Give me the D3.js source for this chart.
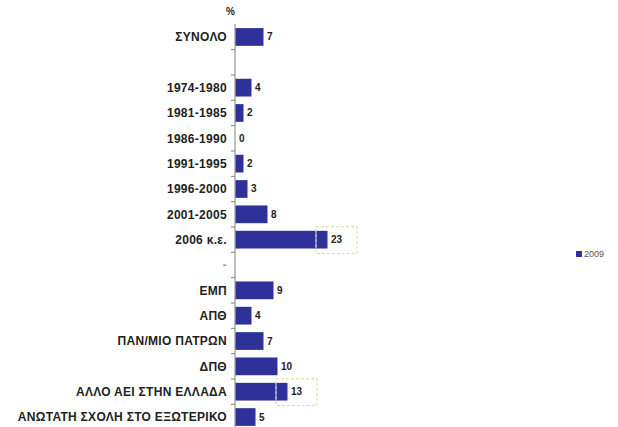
<!DOCTYPE html>
<html><head><meta charset="utf-8">
<script src="https://cdn.jsdelivr.net/npm/d3@7"></script>
<style>body{margin:0;background:#fff}svg{display:block}</style>
</head><body>
<script>
const categories = ["ΣΥΝΟΛΟ", "", "1974-1980", "1981-1985", "1986-1990", "1991-1995", "1996-2000", "2001-2005", "2006 κ.ε.", "-", "ΕΜΠ", "ΑΠΘ", "ΠΑΝ/ΜΙΟ ΠΑΤΡΩΝ", "ΔΠΘ", "ΑΛΛΟ ΑΕΙ ΣΤΗΝ ΕΛΛΑΔΑ", "ΑΝΩΤΑΤΗ ΣΧΟΛΗ ΣΤΟ ΕΞΩΤΕΡΙΚΟ"];
const values2009 = [7, null, 4, 2, 0, 2, 3, 8, 23, null, 9, 4, 7, 10, 13, 5];
const barLengths = [7, null, 4, 2, 0, 2, 3, 8, 23, null, 9.5, 4, 7, 10.5, 13, 5];
const seriesName = "2009";
const axisTitle = "%";

const W = 618, H = 427;
const svg = d3.select("body").append("svg").attr("width", W).attr("height", H);

const x = d3.scaleLinear().domain([0, 23]).range([235, 327]);
const y = d3.scaleBand().domain(categories.map((c, i) => i)).range([24.3, 429.7]).paddingInner(0.3).paddingOuter(0.15);
const step = y.step();

// axis line + ticks
svg.append("line").attr("x1", 235).attr("x2", 235).attr("y1", 24).attr("y2", H).attr("stroke", "#808080").attr("stroke-width", 1);
categories.forEach((c, i) => {
  const yy = 24.3 + i * step;
  if (i > 0) svg.append("line").attr("x1", 231).attr("x2", 235).attr("y1", yy).attr("y2", yy).attr("stroke", "#808080");
});

// bars
const rows = categories.map((c, i) => ({c, i, v: values2009[i], len: barLengths[i]}));
svg.selectAll("rect.bar").data(rows.filter(d => d.len !== null)).join("rect")
  .attr("class", "bar")
  .attr("x", 235.5).attr("y", d => y(d.i))
  .attr("width", d => Math.max(0, x(d.len) - 235))
  .attr("height", y.bandwidth())
  .attr("fill", "#2f319b");

// category labels
svg.selectAll("text.cat").data(rows).join("text")
  .attr("class", "cat")
  .attr("x", 227).attr("y", d => y(d.i) + y.bandwidth() / 2)
  .attr("dy", "0.35em").attr("text-anchor", "end")
  .attr("font-family", "Liberation Sans, Arial, sans-serif")
  .attr("font-weight", "bold").attr("font-size", 12)
  .attr("letter-spacing", 0.3)
  .attr("fill", d => d.c === "-" ? "#999" : "#222")
  .text(d => d.c);

// value labels
svg.selectAll("text.val").data(rows.filter(d => d.v !== null)).join("text")
  .attr("class", "val")
  .attr("x", d => x(d.len) + 4).attr("y", d => y(d.i) + y.bandwidth() / 2)
  .attr("dy", "0.35em")
  .attr("font-family", "Liberation Sans, Arial, sans-serif")
  .attr("font-weight", "bold").attr("font-size", 10)
  .attr("fill", "#222")
  .text(d => d.v);

// dashed highlight boxes around two value labels
[8, 14].forEach(i => {
  const r = rows[i];
  const bx = x(r.len) - 11, by = y(r.i) - 4, bw = 41, bh = y.bandwidth() + 9;
  svg.append("rect").attr("x", bx).attr("y", by).attr("width", bw).attr("height", bh)
    .attr("fill", "none").attr("stroke", "#e2d98a").attr("stroke-dasharray", "3,2");
  svg.append("line").attr("x1", bx).attr("x2", bx).attr("y1", y(r.i)).attr("y2", y(r.i) + y.bandwidth())
    .attr("stroke", "#c8c8e8").attr("stroke-width", 1);
});

// axis title
svg.append("text").attr("x", 226).attr("y", 15).attr("font-family", "Liberation Sans, Arial, sans-serif")
  .attr("font-weight", "bold").attr("font-size", 10).attr("fill", "#222").text(axisTitle);

// legend
svg.append("rect").attr("x", 576).attr("y", 251).attr("width", 6).attr("height", 6).attr("fill", "#2f319b");
svg.append("text").attr("x", 584).attr("y", 257).attr("font-family", "Liberation Sans, Arial, sans-serif")
  .attr("font-size", 9).attr("fill", "#555").text(seriesName);
</script>
</body></html>
